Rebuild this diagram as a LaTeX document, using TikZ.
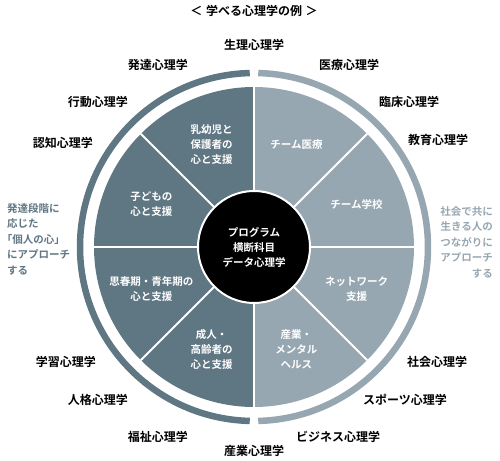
\documentclass[tikz,border=0pt]{standalone}
\usepackage{fontspec}
\setmainfont{Noto Sans CJK JP}[BoldFont={Noto Sans CJK JP Bold}]
\usepackage{tikz}
\usetikzlibrary{positioning}
\definecolor{slatedark}{RGB}{95,118,131}
\definecolor{slatelight}{RGB}{151,167,177}
\tikzset{
  fieldlbl/.style ={font=\bfseries\fontsize{12}{14}\selectfont, text=black, inner sep=0pt},
  seclbl/.style   ={font=\bfseries\fontsize{10.5}{15}\selectfont, text=white, align=center, inner sep=0pt},
  sidelbl/.style  ={font=\bfseries\fontsize{10.5}{15.5}\selectfont, inner sep=0pt},
  divider/.style  ={draw=white, line width=2pt},
  ringarc/.style  ={line width=6.5pt},
}

\begin{document}
\begin{tikzpicture}[x=1pt,y=1pt]
\useasboundingbox (-254,-213) rectangle (246,247);

% pie: left half dark, right half light
\foreach \a in {90,135,180,225}{
  \fill[slatedark] (0,0) -- (\a:160) arc[start angle=\a, end angle=\a+45, radius=160] -- cycle;
}
\foreach \a in {-90,-45,0,45}{
  \fill[slatelight] (0,0) -- (\a:160) arc[start angle=\a, end angle=\a+45, radius=160] -- cycle;
}
\foreach \a in {0,45,...,315}{
  \draw[divider] (0,0) -- (\a:160);
}

% outer ring, split top and bottom
\draw[ringarc,slatedark] (91.4:174) arc[start angle=91.4, end angle=268.6, radius=174];
\draw[ringarc,slatelight] (-88.6:174) arc[start angle=-88.6, end angle=88.6, radius=174];

% hub
\node[circle,fill=black,draw=white,line width=2pt,minimum size=112pt,seclbl] (hub) at (0,0)
  {プログラム\\横断科目\\データ心理学};

% sector texts
\foreach \a/\t [count=\i] in {112.5/{乳幼児と\\保護者の\\心と支援}, 67.5/{チーム医療},
    157.5/{子どもの\\心と支援}, 22.5/{チーム学校},
    202.5/{思春期・青年期の\\心と支援}, -22.5/{ネットワーク\\支援},
    247.5/{成人・\\高齢者の\\心と支援}, -67.5/{産業・\\メンタル\\ヘルス}}{
  \node[seclbl] (sec\i) at (\a:111) {\t};
}

% fields around the ring
\node[fieldlbl] (title) at (0,236) {＜\kern0.3em 学べる心理学の例\kern0.3em ＞};
\node[fieldlbl] (seiri) at (0,202) {生理心理学};
\node[fieldlbl] (hattatsu) at (-96,182) {発達心理学};
\node[fieldlbl] (iryo) at (95,182) {医療心理学};
\node[fieldlbl] (kodo) at (-156,145) {行動心理学};
\node[fieldlbl] (rinsho) at (155,145) {臨床心理学};
\node[fieldlbl] (ninchi) at (-191,104) {認知心理学};
\node[fieldlbl] (kyoiku) at (184,107) {教育心理学};
\node[fieldlbl] (gakushu) at (-188,-115) {学習心理学};
\node[fieldlbl] (shakai) at (183,-115) {社会心理学};
\node[fieldlbl] (jinkaku) at (-156,-153) {人格心理学};
\node[fieldlbl] (sports) at (151,-153) {スポーツ心理学};
\node[fieldlbl] (fukushi) at (-96,-190) {福祉心理学};
\node[fieldlbl] (business) at (84,-190) {ビジネス心理学};
\node[fieldlbl] (sangyo) at (0,-204) {産業心理学};

% side notes
\node[sidelbl,text=slatedark,align=left,anchor=west] (noteL) at (-247,8)
  {発達段階に\\応じた\\\kern-0.5em「個人の心」\\にアプローチ\\する};
\node[sidelbl,text=slatelight,align=right,anchor=east] (noteR) at (239,5)
  {社会で共に\\生きる人の\\つながりに\\アプローチ\\する};
\end{tikzpicture}
\end{document}
